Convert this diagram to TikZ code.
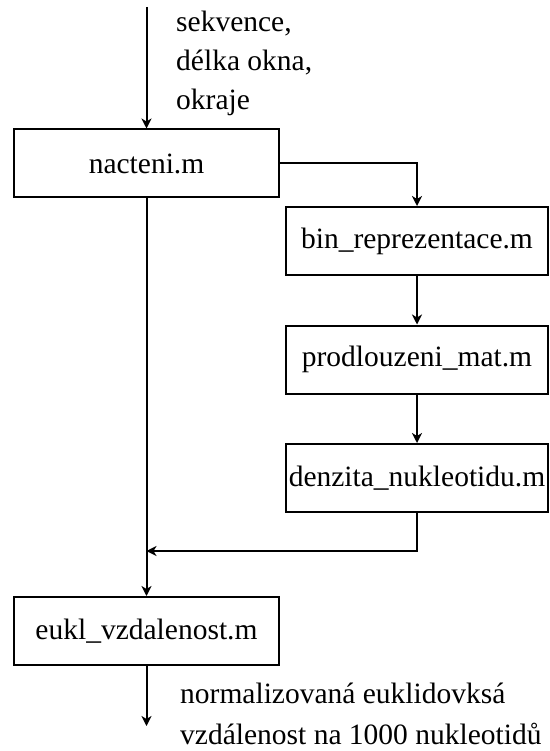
\documentclass[tikz,border=0pt]{standalone}
\usepackage{fontspec}
\setmainfont{Liberation Serif}
\usetikzlibrary{arrows.meta,positioning,calc}

\tikzset{
  modul/.style={draw, line width=2pt, inner sep=0pt, minimum height=68pt,
    font=\fontsize{29.5}{35}\selectfont},
  tok/.style={line width=2pt},
  sip/.style={tok, -{Stealth[length=10pt, width=10pt, inset=3pt]}},
  popis/.style={inner sep=0pt, align=left, anchor=base west,
    font=\fontsize{29.5}{39}\selectfont}
}

\begin{document}
\begin{tikzpicture}[x=1pt, y=-1pt]
  \useasboundingbox (0,0) rectangle (549,751);
  % moduly
  \node[modul, minimum width=265pt] (nacteni) at (146.5,163.5) {nacteni.m};
  \node[modul, minimum width=262pt] (bin)   at (417,241)   {bin\_reprezentace.m};
  \node[modul, minimum width=262pt] (prodl) at (417,359.5) {prodlouzeni\_mat.m};
  \node[modul, minimum width=262pt] (denz)  at (417,478)   {denzita\_nukleotidu.m};
  \node[modul, minimum width=265pt] (eukl)  at (146.5,631) {eukl\_vzdalenost.m};
  % vstup a vystup
  \coordinate (vstup) at (146.5,7);
  \coordinate (spoj)  at (146.5,551);
  \coordinate (vystup) at (146.5,726);
  \node[popis] (vstupy) at (176,110) {sekvence,\\délka okna,\\okraje};
  \node[popis, font=\fontsize{29.5}{41}\selectfont] (vysledek) at (180,744)
    {normalizovaná euklidovksá\\vzdálenost na 1000 nukleotidů};
  % spoje
  \draw[sip] (vstup) -- (nacteni.north);
  \draw[sip] (nacteni.east) -| (bin.north);
  \draw[sip] (bin) -- (prodl);
  \draw[sip] (prodl) -- (denz);
  \draw[sip] (denz.south) |- (spoj);
  \draw[sip] (nacteni.south) -- (eukl.north);
  \draw[sip] (eukl.south) -- (vystup);
\end{tikzpicture}
\end{document}
